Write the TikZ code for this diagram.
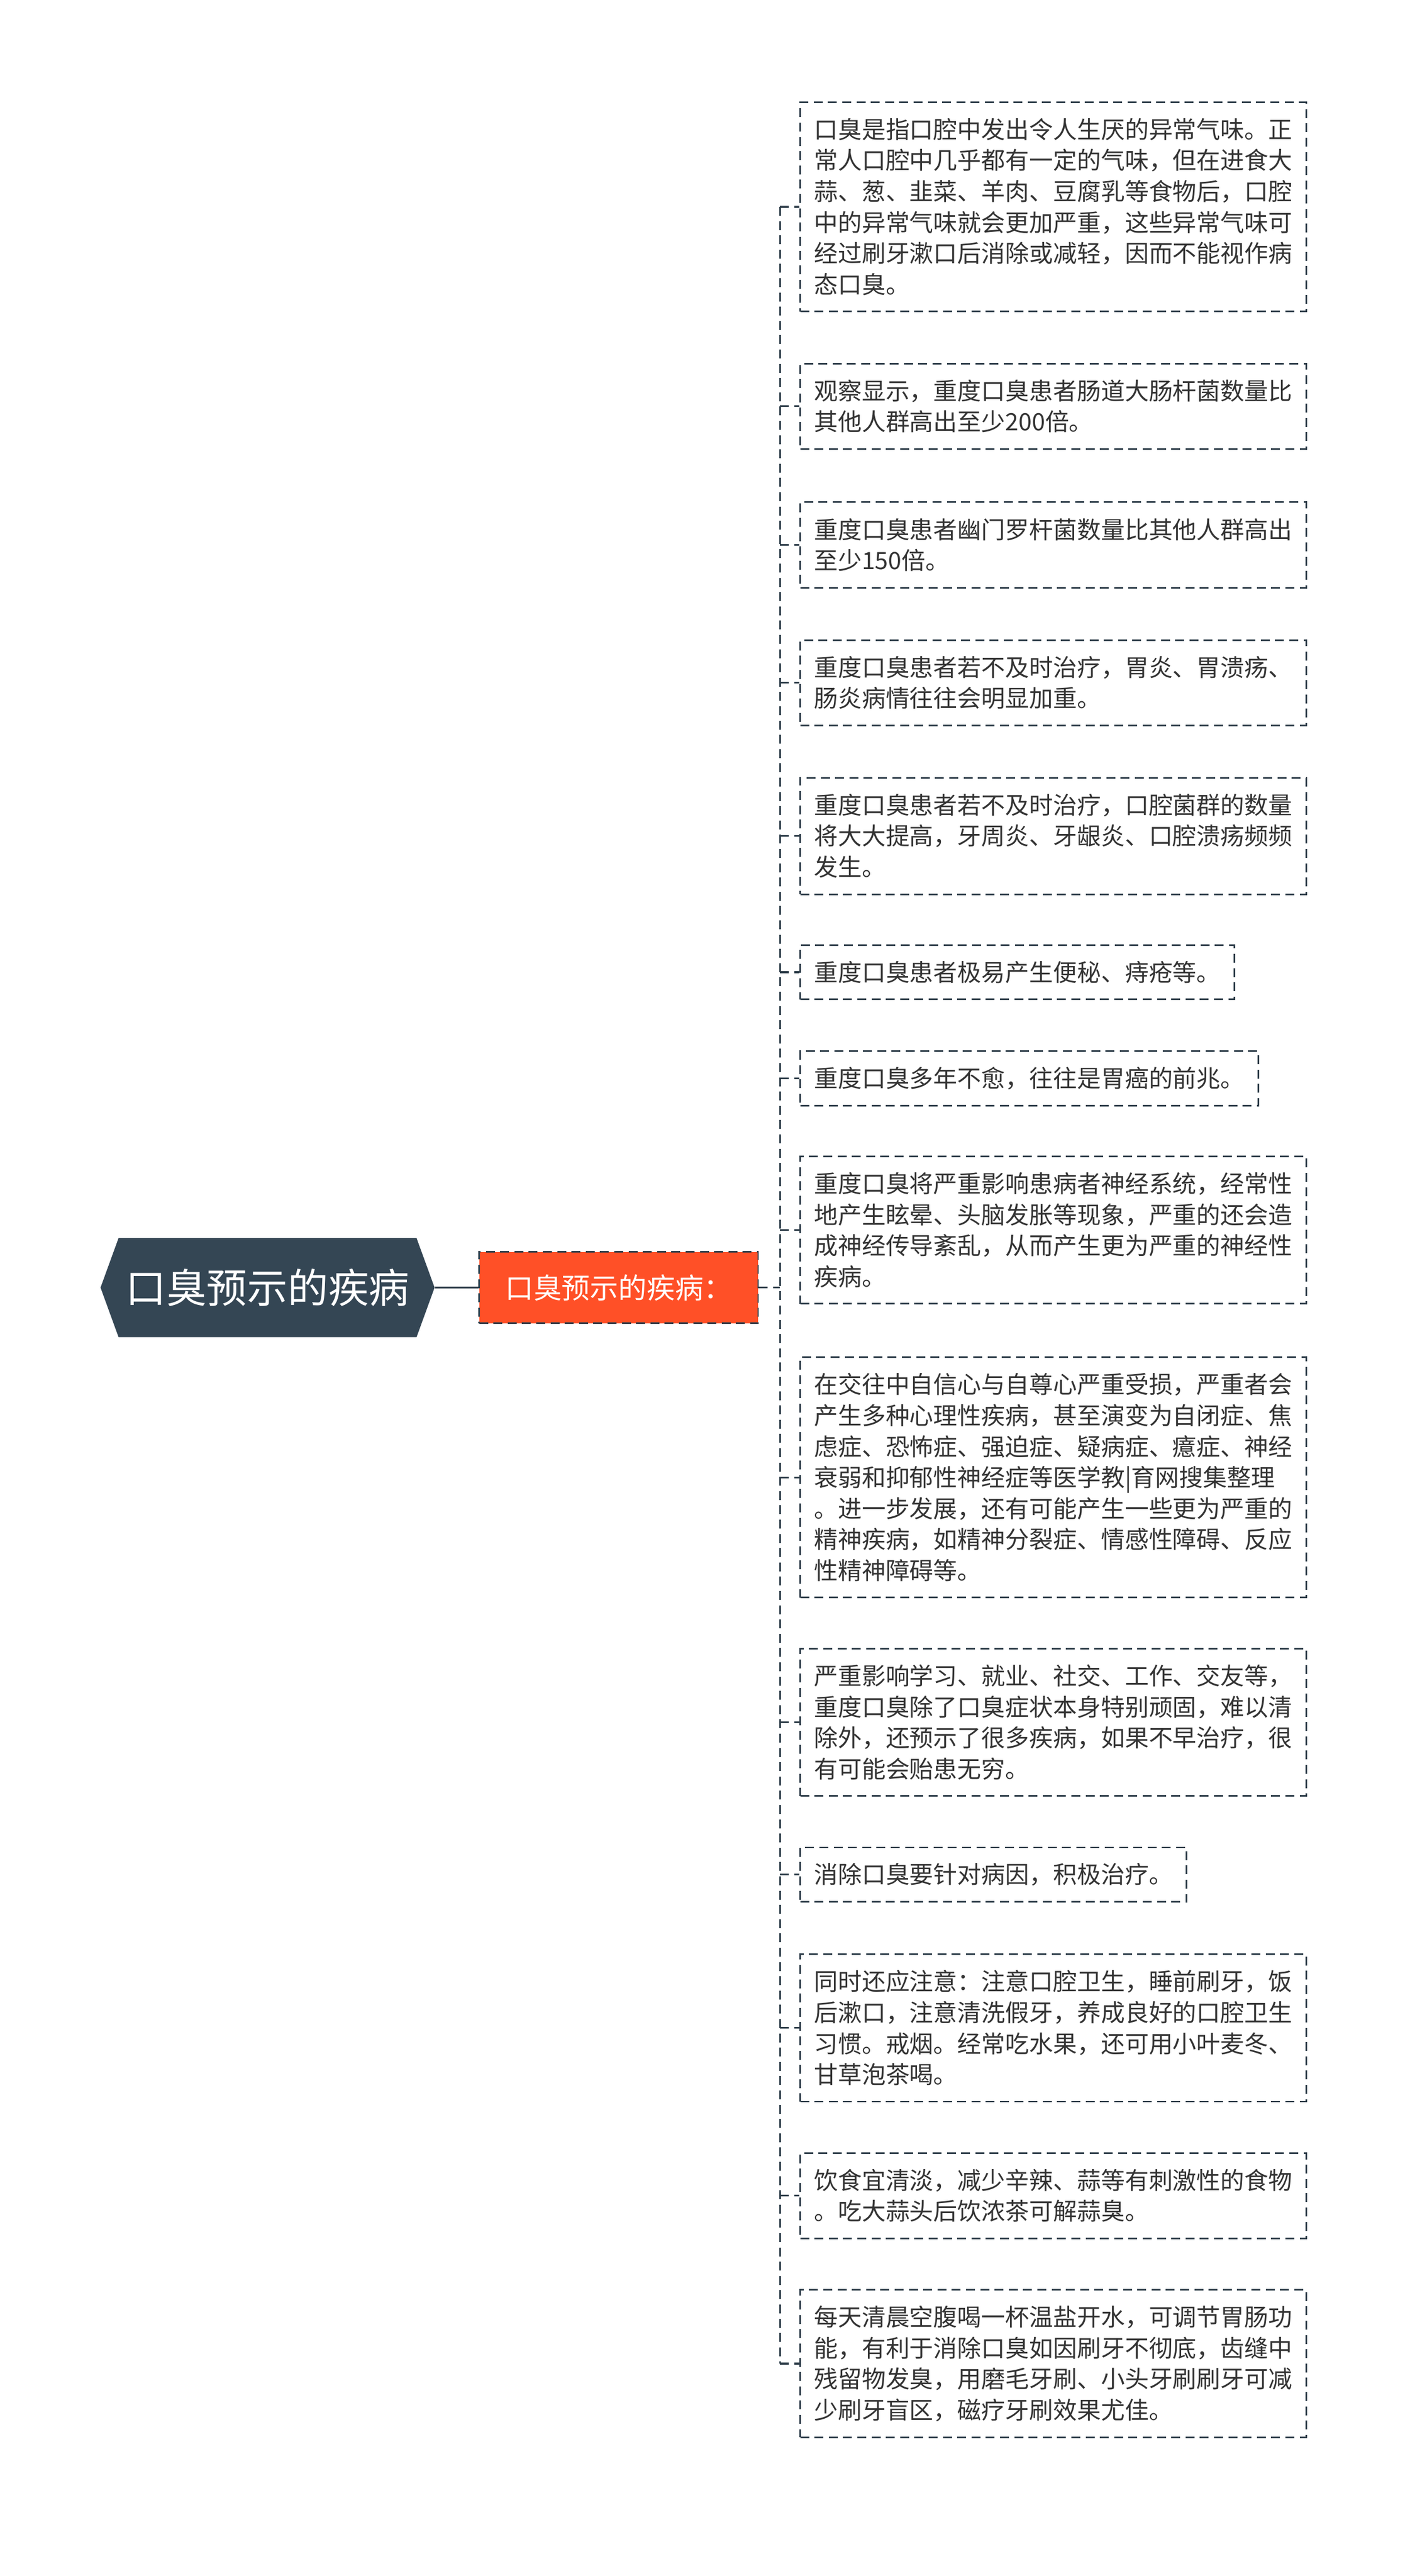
\documentclass[tikz,border=0pt]{standalone}
\usepackage{fontspec}
\setmainfont{Noto Sans CJK SC}
\usetikzlibrary{shapes.symbols}
\definecolor{slate}{HTML}{344654}
\definecolor{ink}{HTML}{2F3E4A}
\definecolor{flame}{HTML}{FF5027}
\definecolor{txt}{HTML}{333333}

\begin{document}
\begin{tikzpicture}[x=1pt,y=-1pt,
	link/.style={draw=ink,line width=1.1pt,dash pattern=on 5.5pt off 3.3pt},
	leaf/.style={draw=ink,line width=1pt,dash pattern=on 5.5pt off 3.3pt,anchor=west,align=left,
		text=txt,font=\fontsize{14.75pt}{19.1pt}\selectfont,inner xsep=8.5pt,inner ysep=2pt,minimum height=#1}]
			\useasboundingbox (0,0) rectangle (880,1588.5);

			\node[shape=signal,signal to=west and east,signal pointer angle=140,fill=slate,text=white,
				font=\fontsize{25pt}{30pt}\selectfont,minimum width=206pt,minimum height=61pt,inner sep=0pt] (root) at (165,794) {口臭预示的疾病};
			\node[anchor=west,fill=flame,draw=ink,line width=1pt,dash pattern=on 5.5pt off 3.3pt,text=white,
				font=\fontsize{17.5pt}{21pt}\selectfont,minimum width=172pt,minimum height=44pt] (mid) at (295,794) {口臭预示的疾病：};
			\coordinate (trunk) at (481,794);

			\node[leaf=129pt] (1) at (493,127.5) {口臭是指口腔中发出令人生厌的异常气味。正\\常人口腔中几乎都有一定的气味，但在进食大\\蒜、葱、韭菜、羊肉、豆腐乳等食物后，口腔\\中的异常气味就会更加严重，这些异常气味可\\经过刷牙漱口后消除或减轻，因而不能视作病\\态口臭。};
			\node[leaf=52.7pt] (2) at (493,250.5) {观察显示，重度口臭患者肠道大肠杆菌数量比\\其他人群高出至少200倍。};
			\node[leaf=52.7pt] (3) at (493,336) {重度口臭患者幽门罗杆菌数量比其他人群高出\\至少150倍。};
			\node[leaf=52.7pt] (4) at (493,421) {重度口臭患者若不及时治疗，胃炎、胃溃疡、\\肠炎病情往往会明显加重。};
			\node[leaf=71.8pt] (5) at (493,515.5) {重度口臭患者若不及时治疗，口腔菌群的数量\\将大大提高，牙周炎、牙龈炎、口腔溃疡频频\\发生。};
			\node[leaf=33.6pt] (6) at (493,599.5) {重度口臭患者极易产生便秘、痔疮等。};
			\node[leaf=33.6pt] (7) at (493,665) {重度口臭多年不愈，往往是胃癌的前兆。};
			\node[leaf=90.9pt] (8) at (493,758.5) {重度口臭将严重影响患病者神经系统，经常性\\地产生眩晕、头脑发胀等现象，严重的还会造\\成神经传导紊乱，从而产生更为严重的神经性\\疾病。};
			\node[leaf=148.2pt] (9) at (493,911) {在交往中自信心与自尊心严重受损，严重者会\\产生多种心理性疾病，甚至演变为自闭症、焦\\虑症、恐怖症、强迫症、疑病症、癔症、神经\\衰弱和抑郁性神经症等医学教|育网搜集整理\\。进一步发展，还有可能产生一些更为严重的\\精神疾病，如精神分裂症、情感性障碍、反应\\性精神障碍等。};
			\node[leaf=90.9pt] (10) at (493,1062) {严重影响学习、就业、社交、工作、交友等，\\重度口臭除了口臭症状本身特别顽固，难以清\\除外，还预示了很多疾病，如果不早治疗，很\\有可能会贻患无穷。};
			\node[leaf=33.6pt] (11) at (493,1156) {消除口臭要针对病因，积极治疗。};
			\node[leaf=90.9pt] (12) at (493,1250.5) {同时还应注意：注意口腔卫生，睡前刷牙，饭\\后漱口，注意清洗假牙，养成良好的口腔卫生\\习惯。戒烟。经常吃水果，还可用小叶麦冬、\\甘草泡茶喝。};
			\node[leaf=52.7pt] (13) at (493,1354) {饮食宜清淡，减少辛辣、蒜等有刺激性的食物\\。吃大蒜头后饮浓茶可解蒜臭。};
			\node[leaf=90.9pt] (14) at (493,1457.5) {每天清晨空腹喝一杯温盐开水，可调节胃肠功\\能，有利于消除口臭如因刷牙不彻底，齿缝中\\残留物发臭，用磨毛牙刷、小头牙刷刷牙可减\\少刷牙盲区，磁疗牙刷效果尤佳。};

			\draw[ink,line width=1.1pt] (root) -- (mid);
			\draw[link] (mid) -- (trunk);
			\draw[link] (trunk |- 1.west) -- (trunk |- 14.west);
			\draw[link] (trunk |- 1.west) -- (1);
			\draw[link] (trunk |- 2.west) -- (2);
			\draw[link] (trunk |- 3.west) -- (3);
			\draw[link] (trunk |- 4.west) -- (4);
			\draw[link] (trunk |- 5.west) -- (5);
			\draw[link] (trunk |- 6.west) -- (6);
			\draw[link] (trunk |- 7.west) -- (7);
			\draw[link] (trunk |- 8.west) -- (8);
			\draw[link] (trunk |- 9.west) -- (9);
			\draw[link] (trunk |- 10.west) -- (10);
			\draw[link] (trunk |- 11.west) -- (11);
			\draw[link] (trunk |- 12.west) -- (12);
			\draw[link] (trunk |- 13.west) -- (13);
			\draw[link] (trunk |- 14.west) -- (14);
		\end{tikzpicture}
\end{document}
